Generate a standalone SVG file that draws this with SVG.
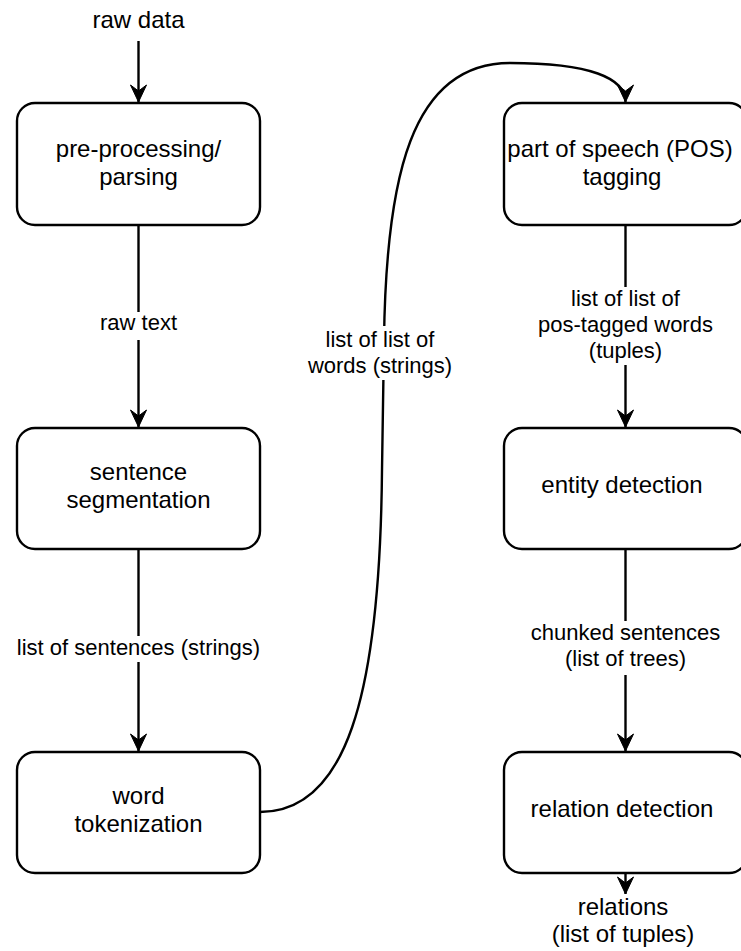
<svg xmlns="http://www.w3.org/2000/svg" width="741" height="951" viewBox="0 0 741 951">
<style>
.box{fill:#fff;stroke:#000;stroke-width:2.4}
.edge{fill:none;stroke:#000;stroke-width:2.4}
.t{font-family:"Liberation Sans",Arial,Helvetica,sans-serif;font-size:24px;fill:#000;text-anchor:middle}
.l{font-family:"Liberation Sans",Arial,Helvetica,sans-serif;font-size:22px;fill:#000;text-anchor:middle}
.bg{fill:#fff}
</style>
<defs>
<marker id="arr" markerUnits="userSpaceOnUse" markerWidth="24" markerHeight="20" viewBox="-20 -10 24 20" refX="0" refY="0" orient="auto">
<path d="M0,0 L-17,-8 L-11,0 L-17,8 Z" fill="#000" stroke="#000" stroke-width="1" stroke-linejoin="miter"/>
</marker>
</defs>
<rect width="741" height="951" fill="#fff"/>
<g id="connectors">
<path class="edge" d="M138.5,41 V102" marker-end="url(#arr)"/>
<path class="edge" d="M138.5,226 V427" marker-end="url(#arr)"/>
<path class="edge" d="M138.5,549 V751" marker-end="url(#arr)"/>
<path class="edge" d="M260,812 C345,812 380,700 382,470 L384,340 C386,180 410,63 510,63 C590,63 625.5,78 625.5,102" marker-end="url(#arr)"/>
<path class="edge" d="M625.5,226 V427" marker-end="url(#arr)"/>
<path class="edge" d="M625.5,549 V751" marker-end="url(#arr)"/>
<path class="edge" d="M625.5,873 V894" marker-end="url(#arr)"/>
</g>
<g id="label-raw-text">
<rect class="bg" x="97" y="312" width="80" height="28"/>
<text class="l" x="138.5" y="330">raw text</text>
</g>
<g id="label-sentences">
<rect class="bg" x="14" y="636" width="246" height="26"/>
<text class="l" x="138.5" y="655">list of sentences (strings)</text>
</g>
<g id="label-words">
<rect class="bg" x="305" y="326" width="150" height="54"/>
<text class="l" x="380" y="347">list of list of</text>
<text class="l" x="380" y="373">words (strings)</text>
</g>
<g id="label-pos">
<rect class="bg" x="535" y="287" width="182" height="78"/>
<text class="l" x="625.5" y="306">list of list of</text>
<text class="l" x="625.5" y="332">pos-tagged words</text>
<text class="l" x="625.5" y="358">(tuples)</text>
</g>
<g id="label-chunked">
<rect class="bg" x="528" y="621" width="196" height="54"/>
<text class="l" x="625.5" y="640">chunked sentences</text>
<text class="l" x="625.5" y="666">(list of trees)</text>
</g>
<g id="raw-data">
<text class="t" x="138.5" y="28">raw data</text>
</g>
<g id="preprocessing">
<rect class="box" x="17" y="103" width="243" height="122" rx="18"/>
<text class="t" x="138.5" y="157">pre-processing/</text>
<text class="t" x="138.5" y="185">parsing</text>
</g>
<g id="sentence-segmentation">
<rect class="box" x="17" y="428" width="243" height="121" rx="18"/>
<text class="t" x="138.5" y="480">sentence</text>
<text class="t" x="138.5" y="508">segmentation</text>
</g>
<g id="word-tokenization">
<rect class="box" x="17" y="752" width="243" height="121" rx="18"/>
<text class="t" x="138.5" y="804">word</text>
<text class="t" x="138.5" y="832">tokenization</text>
</g>
<g id="pos-tagging">
<rect class="box" x="504" y="103" width="243" height="122" rx="18"/>
<text class="t" x="620" y="157">part of speech (POS)</text>
<text class="t" x="622" y="185">tagging</text>
</g>
<g id="entity-detection">
<rect class="box" x="504" y="428" width="243" height="121" rx="18"/>
<text class="t" x="622" y="493">entity detection</text>
</g>
<g id="relation-detection">
<rect class="box" x="504" y="752" width="243" height="121" rx="18"/>
<text class="t" x="622" y="817">relation detection</text>
</g>
<g id="relations">
<text class="t" x="623" y="915">relations</text>
<text class="t" x="623" y="942">(list of tuples)</text>
</g>
</svg>
